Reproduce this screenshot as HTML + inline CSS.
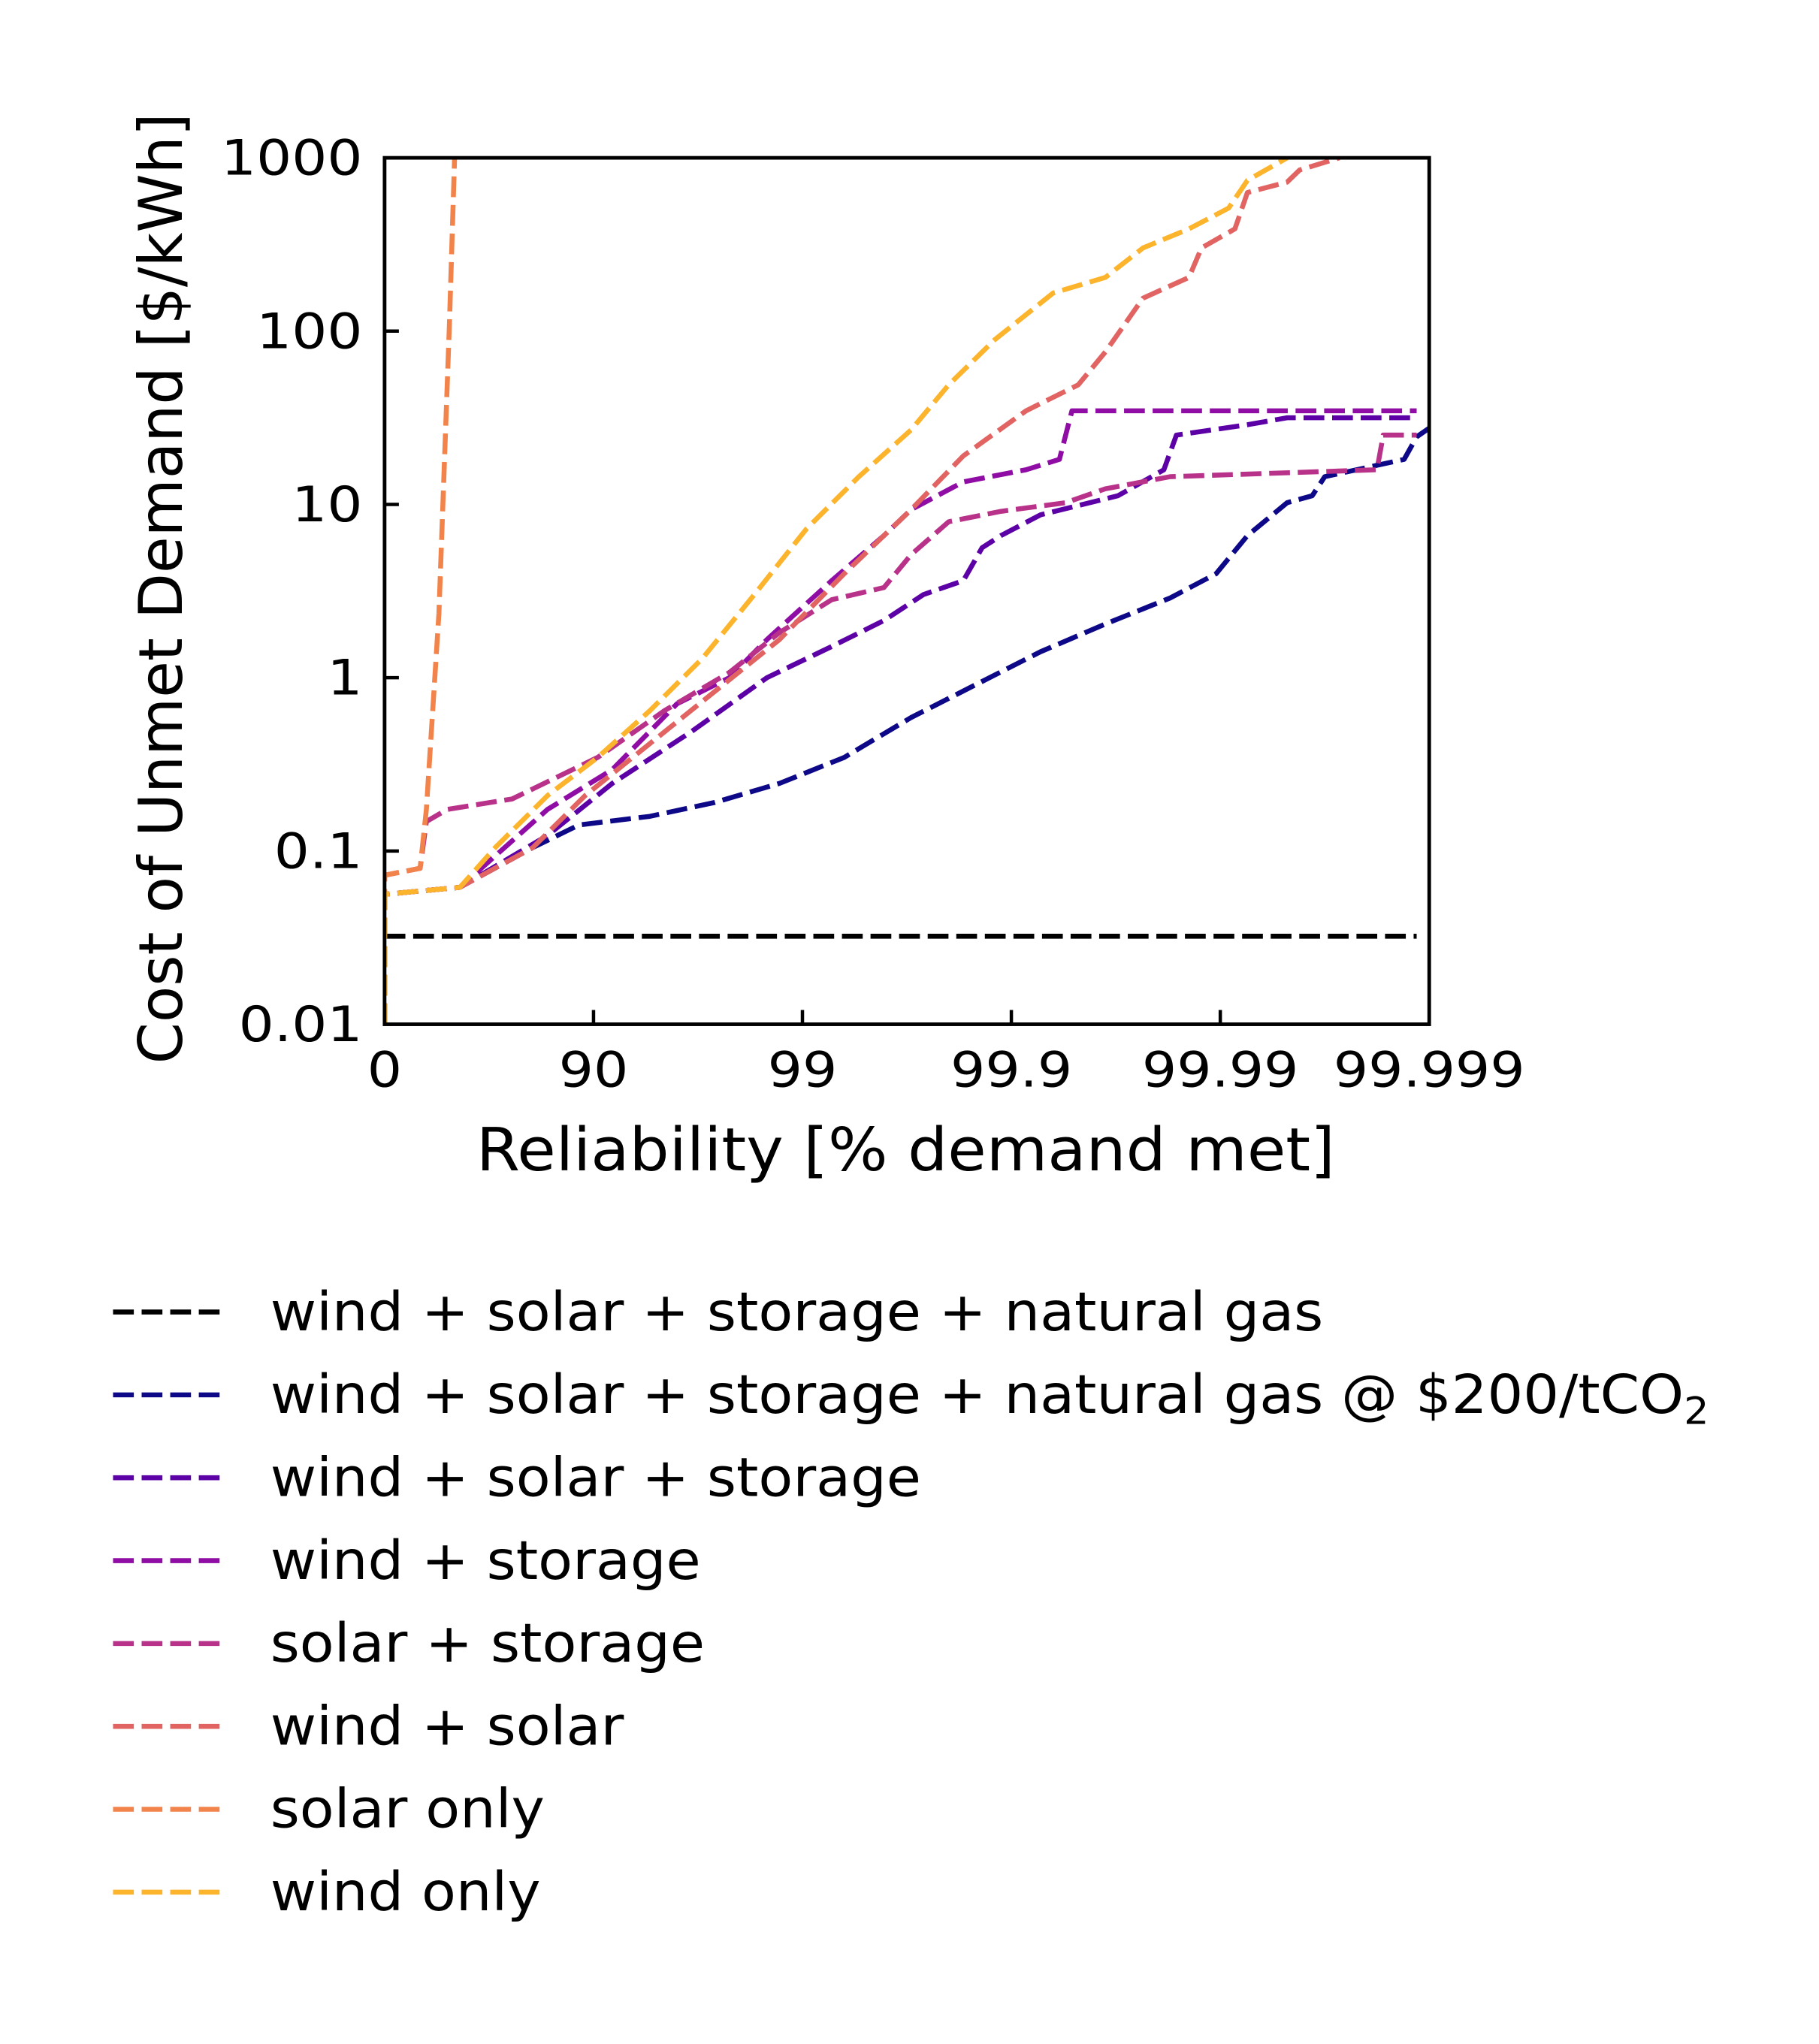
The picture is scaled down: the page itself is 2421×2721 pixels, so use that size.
<!DOCTYPE html>
<html><head><meta charset="utf-8"><style>
html,body{margin:0;padding:0;background:#fff;}
svg{display:block;}
text{font-family:"DejaVu Sans","Liberation Sans",sans-serif;fill:#000;}
</style></head><body>
<svg id="chart" width="2421" height="2721" viewBox="0 0 1400 1573.5" xmlns="http://www.w3.org/2000/svg">
<rect width="1400" height="1573.5" fill="#fff"/>
<g id="series"></g>
<rect x="296" y="121.5" width="804" height="667" fill="none" stroke="#000" stroke-width="2.8"/>
<g id="axes"></g>
<text x="0" y="0" transform="translate(140,453) rotate(-90) scale(1.04,1.05)" text-anchor="middle" font-size="44">Cost of Unmet Demand [$/kWh]</text>
<text x="0" y="0" transform="translate(697,901) scale(1.1,1.04)" text-anchor="middle" font-size="44">Reliability [% demand met]</text>
<g id="legend"></g>
</svg>
<script>
const xTicks = ["0","90","99","99.9","99.99","99.999"];
const yTicks = ["0.01","0.1","1","10","100","1000"];
const seriesNames = ["wind + solar + storage + natural gas","wind + solar + storage + natural gas @ $200/tCO\u2082","wind + solar + storage","wind + storage","solar + storage","wind + solar","solar only","wind only"];
const seriesColors = ["#000000","#0d0887","#5c01a6","#8f0da4","#b83289","#e16462","#f2844b","#fcb42c"];
// x values: u = -log10(1 - reliability/100); y values: log10(cost $/kWh)
const gasX = [0,4.94];
const gasY = [-1.492,-1.492];
const gas200X = [0,0,0.36,0.71,0.93,1.27,1.58,1.89,2.2,2.52,2.83,3.14,3.45,3.76,3.98,4.13,4.32,4.44,4.5,4.88,4.94,5];
const gas200Y = [-2,-1.25,-1.21,-0.98,-0.85,-0.8,-0.72,-0.61,-0.46,-0.23,-0.04,0.15,0.31,0.46,0.6,0.82,1.01,1.05,1.16,1.26,1.39,1.44];
const wssX = [0,0,0.36,0.78,1.09,1.47,1.83,2.14,2.39,2.58,2.77,2.86,2.95,3.14,3.51,3.73,3.79,4.13,4.32,4.94];
const wssY = [-2,-1.25,-1.21,-0.91,-0.61,-0.31,0.0,0.18,0.33,0.48,0.56,0.75,0.82,0.94,1.05,1.2,1.4,1.46,1.5,1.5];
const wstX = [0,0,0.36,0.78,1.09,1.4,1.65,1.83,2.14,2.39,2.52,2.77,3.07,3.23,3.29,4.94];
const wstY = [-2,-1.25,-1.21,-0.76,-0.53,-0.15,0.0,0.22,0.56,0.82,0.97,1.13,1.2,1.26,1.54,1.54];
const sstX = [0,0,0.17,0.2,0.3,0.61,1.02,1.34,1.65,1.89,2.14,2.39,2.52,2.7,2.95,3.26,3.45,3.76,4.75,4.78,4.94];
const sstY = [-2,-1.14,-1.1,-0.83,-0.76,-0.7,-0.46,-0.19,0.03,0.26,0.45,0.52,0.71,0.9,0.96,1.01,1.09,1.16,1.2,1.4,1.4];
const wsX = [0,0,0.36,0.71,0.96,1.27,1.58,1.89,2.2,2.52,2.77,3.07,3.32,3.45,3.63,3.85,3.91,4.07,4.13,4.32,4.38,4.57];
const wsY = [-2,-1.25,-1.21,-0.98,-0.68,-0.38,-0.08,0.22,0.6,0.97,1.28,1.54,1.69,1.88,2.19,2.31,2.48,2.59,2.8,2.86,2.93,3];
const solarX = [0,0,0.17,0.2,0.26,0.31,0.335];
const solarY = [-2,-1.14,-1.1,-0.76,0.37,2.03,3];
const windX = [0,0,0.36,0.53,0.78,1.02,1.27,1.52,1.77,2.02,2.27,2.52,2.7,2.92,3.2,3.45,3.63,3.85,4.04,4.13,4.32];
const windY = [-2,-1.25,-1.21,-0.98,-0.68,-0.46,-0.19,0.11,0.48,0.86,1.16,1.43,1.69,1.95,2.22,2.31,2.48,2.59,2.71,2.87,3];

const seriesX = [gasX,gas200X,wssX,wstX,sstX,wsX,solarX,windX];
const seriesY = [gasY,gas200Y,wssY,wstY,sstY,wsY,solarY,windY];
const seriesKeys = ["gas","gas-200","wind-solar-storage","wind-storage","solar-storage","wind-solar","solar-only","wind-only"];

const X0=296, X1=1100, Y0=788.5, Y1=121.5;
function xScale(u){return X0+(X1-X0)*u/5;}
function yScale(l){return Y0-(Y0-Y1)*(l+2)/5;}
const NS="http://www.w3.org/2000/svg";
function mk(tag,attrs){const e=document.createElementNS(NS,tag);for(const k in attrs)e.setAttribute(k,attrs[k]);return e;}

const clip=mk("clipPath",{id:"pc"});
clip.appendChild(mk("rect",{x:X0,y:Y1,width:X1-X0,height:Y0-Y1}));
document.getElementById("chart").appendChild(clip);

const sg=document.getElementById("series");
sg.setAttribute("clip-path","url(#pc)");
for(let i=0;i<seriesX.length;i++){
  const pts=seriesX[i].map((u,j)=>xScale(u).toFixed(2)+","+yScale(seriesY[i][j]).toFixed(2)).join(" ");
  const pl=mk("polyline",{points:pts,fill:"none",stroke:seriesColors[i],"stroke-width":"3.8","stroke-dasharray":"16 6","stroke-linejoin":"round"});
  
  
  sg.appendChild(pl);
}

const ag=document.getElementById("axes");
xTicks.forEach((t,i)=>{
  const x=xScale(i);
  if(i>0&&i<5){const tk=mk("line",{x1:x,x2:x,y1:Y0,y2:Y0-11,stroke:"#000","stroke-width":"2.6"});
  
  
  ag.appendChild(tk);}
  const tx=mk("text",{transform:"translate("+x+","+(Y0+48)+") scale(1.17,1.04)","text-anchor":"middle","font-size":"36"});
  tx.textContent=t;
  
  
  ag.appendChild(tx);
});
yTicks.forEach((t,i)=>{
  const y=yScale(i-2);
  if(i>0&&i<5){const tk=mk("line",{x1:X0,x2:X0+11,y1:y,y2:y,stroke:"#000","stroke-width":"2.6"});
  
  
  ag.appendChild(tk);}
  const tx=mk("text",{transform:"translate("+(X0-17)+","+(y+13)+") scale(1.19,1.04)","text-anchor":"end","font-size":"36"});
  tx.textContent=t;
  
  
  ag.appendChild(tx);
});

const lg=document.getElementById("legend");
seriesNames.forEach((n,i)=>{
  const y=1010+i*63.8;
  const ln=mk("line",{x1:87,x2:174,y1:y,y2:y,stroke:seriesColors[i],"stroke-width":"3.8","stroke-dasharray":"16 6"});
  
  
  lg.appendChild(ln);
  const tx=mk("text",{transform:"translate(208,"+(y+14)+") scale(1.085,1.03)","font-size":"40"});
  if(i===1){
    tx.textContent="wind + solar + storage + natural gas @ $200/tCO";
    const sub=mk("tspan",{"font-size":"28",dy:"8"});
    sub.textContent="2";
    tx.appendChild(sub);
  } else tx.textContent=n;
  
  
  lg.appendChild(tx);
});
</script>
</body></html>
